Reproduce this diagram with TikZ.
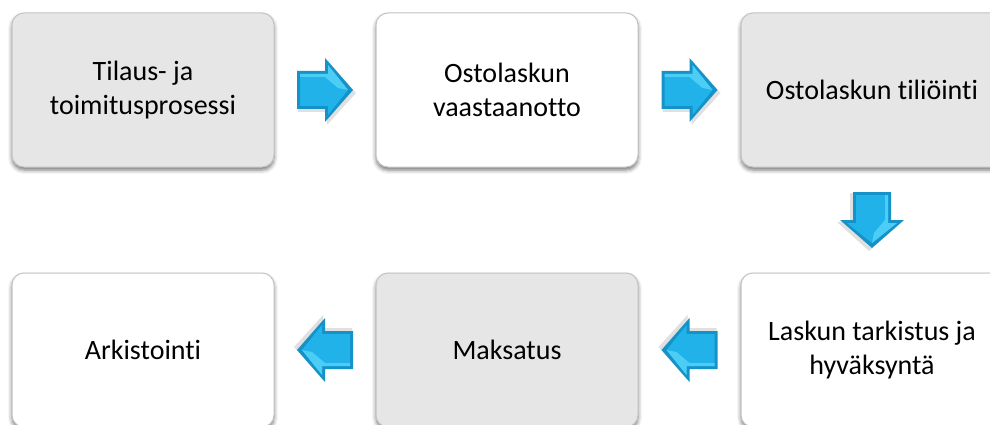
\documentclass[tikz,border=0pt]{standalone}
\usepackage{fontspec}
\setmainfont{Carlito}[Ligatures={NoCommon}]
\usetikzlibrary{calc,shadows.blur}
\definecolor{boxgray}{HTML}{E6E6E6}
\definecolor{boxline}{HTML}{C4C4C4}
\definecolor{arrdark}{HTML}{1592C8}
\definecolor{arrmid}{HTML}{22B2EA}
\definecolor{arrlight}{HTML}{4CCDF6}
\tikzset{
  procbox/.style={rounded corners=12pt, minimum width=262pt, minimum height=154pt,
    draw=boxline, line width=1pt, align=center, font=\fontsize{28}{34}\selectfont,
    blur shadow={shadow xshift=0pt, shadow yshift=-3pt, shadow blur radius=4pt, shadow opacity=55}},
  graybox/.style={procbox, fill=boxgray},
  whitebox/.style={procbox, fill=white},
  barrow/.pic={
    \fill[black, opacity=0.12] (-27,-17) -- (2,-17) -- (2,-30) -- (31,3) -- (2,35) -- (2,22) -- (-27,22) -- cycle;
    \fill[arrdark] (-28,-19) -- (0,-19) -- (0,-32) -- (28,0) -- (0,32) -- (0,19) -- (-28,19) -- cycle;
    \fill[arrmid] (-25,-16) -- (3,-16) -- (3,-25) -- (23,0) -- (3,25) -- (3,16) -- (-25,16) -- cycle;
    \fill[arrlight] (-25,-16) -- (3,-16) -- (3,-25) -- (23,0) -- (13,-2) -- (0,-13) -- (-25,-13) -- cycle;
  }
}
\begin{document}
\begin{tikzpicture}[x=1pt,y=-1pt]
\useasboundingbox (0,0) rectangle (990,425);
\node[graybox]  (b1) at (143,90)  {Tilaus- ja\\toimitusprosessi};
\node[whitebox] (b2) at (507,90)  {Ostolaskun\\vaastaanotto};
\node[graybox]  (b3) at (872,90)  {Ostolaskun tiliöinti};
\node[whitebox] (b6) at (872,350) {Laskun tarkistus ja\\hyväksyntä};
\node[graybox]  (b5) at (507,350) {Maksatus};
\node[whitebox] (b4) at (143,350) {Arkistointi};
\coordinate (m12) at ($(b1.east)!0.5!(b2.west)$);
\coordinate (m23) at ($(b2.east)!0.5!(b3.west)$);
\coordinate (m36) at ($(b3.south)!0.5!(b6.north)$);
\coordinate (m65) at ($(b6.west)!0.5!(b5.east)$);
\coordinate (m54) at ($(b5.west)!0.5!(b4.east)$);
\pic at (m12) {barrow};
\pic at (m23) {barrow};
\pic[rotate=-90] at (m36) {barrow};
\pic[rotate=180] at (m65) {barrow};
\pic[rotate=180] at (m54) {barrow};
\end{tikzpicture}
\end{document}
